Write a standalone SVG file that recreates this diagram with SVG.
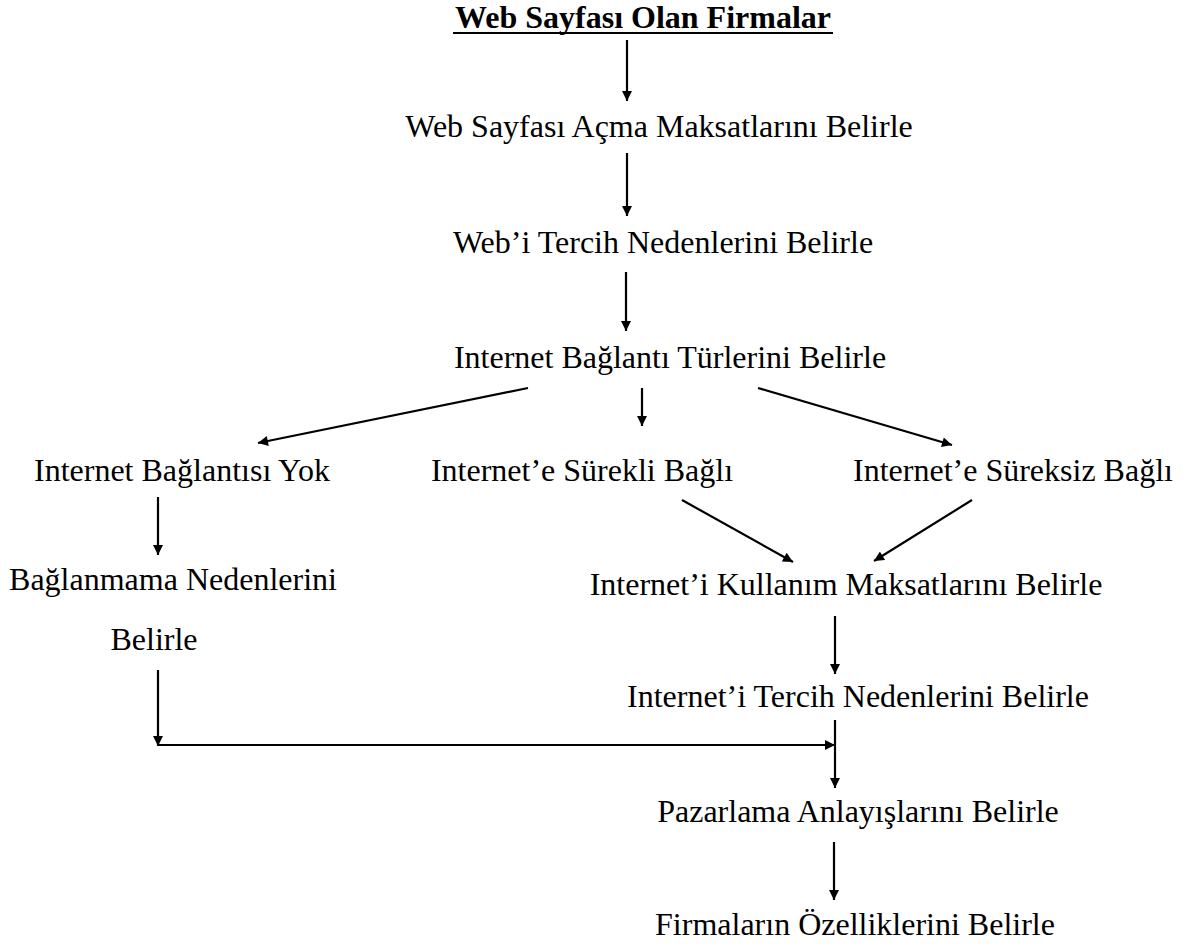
<svg xmlns="http://www.w3.org/2000/svg" width="1189" height="946" viewBox="0 0 1189 946">
  <style>
    .t { font-family: "Liberation Serif", "Times New Roman", serif; font-size: 32px; fill: #000; text-anchor: middle; }
    .h { font-weight: bold; }
    .c { stroke: #000; stroke-width: 2.2; fill: none; }
    .a { marker-end: url(#ah); }
  </style>
  <defs>
    <!-- solid triangular arrowhead shared by all connectors -->
    <marker id="ah" viewBox="0 0 10 10" refX="10" refY="5" markerWidth="12" markerHeight="10" orient="auto" markerUnits="userSpaceOnUse">
      <path d="M0,0 L10,5 L0,10 z" fill="#000"/>
    </marker>
  </defs>
  <rect width="1189" height="946" fill="#fff"/>

  <g id="connectors">
    <line class="c a" x1="627" y1="40" x2="627" y2="101"/>
    <line class="c a" x1="627" y1="153" x2="627" y2="216"/>
    <line class="c a" x1="626" y1="272" x2="626" y2="331"/>
    <line class="c a" x1="528" y1="388" x2="258" y2="443"/>
    <line class="c a" x1="642" y1="388" x2="642" y2="426"/>
    <line class="c a" x1="758" y1="388" x2="952" y2="445"/>
    <line class="c a" x1="158" y1="497" x2="158" y2="555"/>
    <line class="c a" x1="682" y1="500" x2="793" y2="562"/>
    <line class="c a" x1="972" y1="500" x2="874" y2="561"/>
    <line class="c a" x1="835" y1="616" x2="835" y2="674"/>
    <line class="c a" x1="158" y1="670" x2="158" y2="746"/>
    <line class="c a" x1="158" y1="745" x2="835" y2="745"/>
    <line class="c a" x1="835" y1="720" x2="835" y2="788"/>
    <line class="c a" x1="834" y1="842" x2="834" y2="900"/>
  </g>

  <g id="n-web-firmalar">
    <text class="t h" x="643" y="28">Web Sayfası Olan Firmalar</text>
    <line x1="453" y1="33" x2="833" y2="33" stroke="#000" stroke-width="2"/>
  </g>
  <g id="n-maksat"><text class="t" x="659" y="137">Web Sayfası Açma Maksatlarını Belirle</text></g>
  <g id="n-web-tercih"><text class="t" x="663" y="253">Web’i Tercih Nedenlerini Belirle</text></g>
  <g id="n-baglanti-tur"><text class="t" x="670" y="368">Internet Bağlantı Türlerini Belirle</text></g>
  <g id="n-yok"><text class="t" x="182" y="481">Internet Bağlantısı Yok</text></g>
  <g id="n-surekli"><text class="t" x="582" y="481">Internet’e Sürekli Bağlı</text></g>
  <g id="n-sureksiz"><text class="t" x="1013" y="481">Internet’e Süreksiz Bağlı</text></g>
  <g id="n-baglanmama">
    <text class="t" x="173" y="590">Bağlanmama Nedenlerini</text>
    <text class="t" x="154" y="650">Belirle</text>
  </g>
  <g id="n-kullanim"><text class="t" x="846" y="595">Internet’i Kullanım Maksatlarını Belirle</text></g>
  <g id="n-int-tercih"><text class="t" x="858" y="707">Internet’i Tercih Nedenlerini Belirle</text></g>
  <g id="n-pazarlama"><text class="t" x="858" y="822">Pazarlama Anlayışlarını Belirle</text></g>
  <g id="n-ozellik"><text class="t" x="855" y="935">Firmaların Özelliklerini Belirle</text></g>
</svg>
